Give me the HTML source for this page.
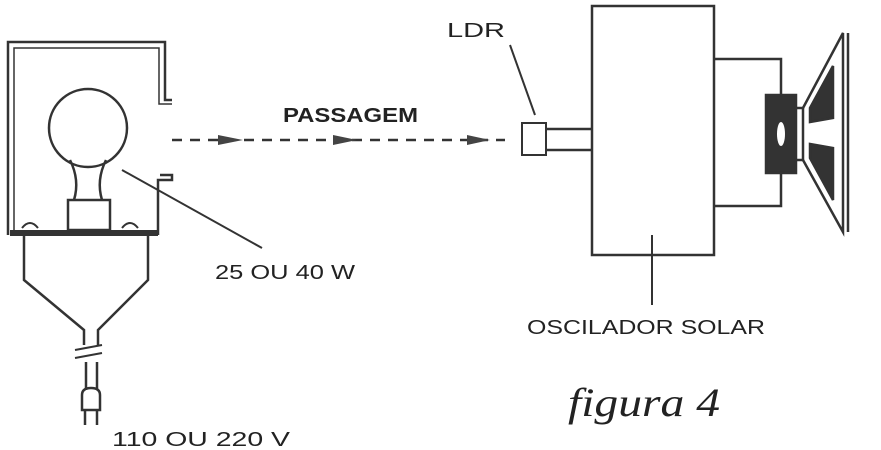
<!DOCTYPE html>
<html><head><style>body{margin:0;background:#fff}svg{display:block}</style></head><body>
<svg width="881" height="450" viewBox="0 0 881 450" xmlns="http://www.w3.org/2000/svg" fill="none" stroke="#333" stroke-width="2.5">
<!-- housing -->
<path d="M8 235 V42 H165 V100 H172" />
<path d="M14 232 V48 H159 V104 H172" stroke-width="1.5"/>
<path d="M158 235 V180 H172 V175 H160" />
<path d="M10 233 H158" stroke-width="6"/>
<path d="M22 228 q8 -10 16 0 M122 228 q8 -10 16 0" stroke-width="2"/>
<!-- bulb -->
<circle cx="88" cy="128" r="39"/>
<path d="M70 160 Q80 180 74 200 M106 160 Q96 180 102 200"/>
<rect x="68" y="200" width="42" height="30"/>
<!-- funnel -->
<path d="M24 236 V280 L84 330 V345 M148 236 V280 L98 330 V345"/>
<path d="M75 350 L102 345 M75 358 L102 353" stroke-width="2"/>
<path d="M86 362 V390 M97 362 V390"/>
<path d="M82 410 V395 Q82 388 91 388 Q100 388 100 395 V410 Z"/>
<path d="M85 410 V425 M97 410 V425"/>
<!-- leader lines -->
<path d="M122 170 L262 248" stroke-width="2"/>
<path d="M510 45 L535 115" stroke-width="2"/>
<path d="M652 235 V305" stroke-width="2"/>
<!-- dashes -->
<path d="M172 140 H505" stroke-dasharray="10 8"/>
<path d="M218 135 L243 140 L218 145Z M333 135 L357 140 L333 145Z M467 135 L490 140 L467 145Z" fill="#444" stroke="none"/>
<!-- LDR & box -->
<rect x="522" y="123" width="24" height="32" stroke-width="2"/>
<path d="M546 129 H592 M546 150 H592"/>
<rect x="592" y="6" width="122" height="249"/>
<path d="M714 59 H781 V95 M714 206 H781 V173"/>
<!-- speaker -->
<rect x="766" y="95" width="30" height="78" fill="#333"/>
<ellipse cx="781" cy="134" rx="4" ry="12" fill="#fff" stroke="none"/>
<path d="M796 108 H803 V160 H796" />
<path d="M803 108 L843 33 V232 L803 160" />
<path d="M848 33 V232"/>
<path d="M810 108 L833 66 V118 L810 122Z M810 144 L833 148 V200 L810 158Z" fill="#333"/>
<g fill="#222" stroke="none" font-family="Liberation Sans, sans-serif">
<text x="283" y="122" font-size="20" font-weight="bold" textLength="135" lengthAdjust="spacingAndGlyphs">PASSAGEM</text>
<text x="447" y="37" font-size="20" textLength="58" lengthAdjust="spacingAndGlyphs">LDR</text>
<text x="215" y="279" font-size="20" textLength="140" lengthAdjust="spacingAndGlyphs">25 OU 40 W</text>
<text x="527" y="334" font-size="20" textLength="238" lengthAdjust="spacingAndGlyphs">OSCILADOR SOLAR</text>
<text x="112" y="446" font-size="20" textLength="178" lengthAdjust="spacingAndGlyphs">110 OU 220 V</text>
<text x="568" y="416" font-size="40" font-style="italic" font-family="Liberation Serif, serif" textLength="152" lengthAdjust="spacingAndGlyphs">figura 4</text>
</g>
</svg>
</body></html>
